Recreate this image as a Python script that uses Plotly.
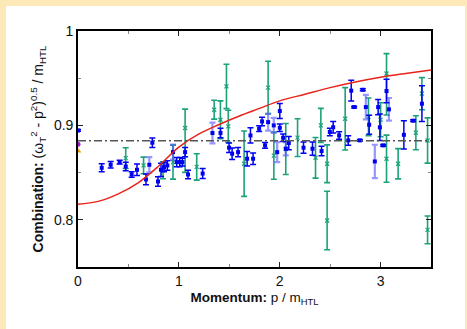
import plotly.graph_objects as go

# ---- data ----
# blue lattice points (dark)
b_x = [0.0, 0.235, 0.324, 0.413, 0.473, 0.532, 0.585, 0.674, 0.737, 0.793, 0.823, 0.853, 0.886,
       0.979, 1.009, 1.035, 1.062, 1.091, 1.236, 1.413, 1.498, 1.528, 1.587, 1.677, 1.71, 1.736,
       1.796, 1.825, 1.855, 2.001, 2.001, 2.034, 2.09, 2.236, 2.325, 2.415, 2.497, 2.53, 2.589,
       2.679, 2.709, 2.738, 2.795, 2.824, 2.887, 2.976, 2.993, 3.026, 3.059, 3.231, 3.323, 3.41]
b_y = [0.8947, 0.8551, 0.8583, 0.8611, 0.8565, 0.848, 0.853, 0.8428, 0.8817, 0.8406, 0.853, 0.8558, 0.8576,
       0.8611, 0.8611, 0.8611, 0.8717, 0.848, 0.849, 0.892, 0.8764, 0.870, 0.8717, 0.8647, 0.8894, 0.8647,
       0.8965, 0.9042, 0.8788, 0.9152, 0.8975, 0.8869, 0.8813, 0.8764, 0.8753, 0.8728, 0.893, 0.898, 0.8894,
       0.8841, 0.9368, 0.9194, 0.8841, 0.9378, 0.9007, 0.9194, 0.898, 0.8788, 0.9364, 0.890, 0.905, 0.923]
b_e = [0.001, 0.0042, 0.0035, 0.002, 0.0045, 0.003, 0.006, 0.0056, 0.005, 0.005, 0.007, 0.005, 0.005,
       0.005, 0.005, 0.004, 0.005, 0.0044, 0.0053, 0.005, 0.005, 0.006, 0.005, 0.0076, 0.008, 0.006,
       0.003, 0.0045, 0.003, 0.008, 0.004, 0.004, 0.007, 0.006, 0.007, 0.005, 0.004, 0.006, 0.004,
       0.005, 0.011, 0.001, 0.001, 0.001, 0.01, 0.008, 0.014, 0.001, 0.0125, 0.015, 0.001, 0.019]

# blue lattice points (light)
bl_x = [0.707, 0.942, 1.333, 1.885, 1.941, 1.975, 2.06, 2.854, 2.943, 3.083]
bl_y = [0.8583, 0.8717, 0.8919, 0.9035, 0.900, 0.8717, 0.8753, 0.9194, 0.8618, 0.917]
bl_e = [0.008, 0.008, 0.011, 0.009, 0.008, 0.0106, 0.007, 0.013, 0.0177, 0.012]

# green points
g_x = [0.473, 0.65, 0.843, 0.942, 1.062, 1.177, 1.35, 1.412, 1.472, 1.49, 1.647, 1.885, 1.942, 2.06,
       2.177, 2.355, 2.408, 2.47, 2.47, 2.649, 2.88, 3.0, 3.059, 3.059, 3.174, 3.35, 3.41, 3.466, 3.466]
g_y = [0.8654, 0.8576, 0.8525, 0.8611, 0.8972, 0.856, 0.9166, 0.906, 0.9413, 0.899, 0.8594, 0.94, 0.868, 0.875,
       0.887, 0.8657, 0.900, 0.8594, 0.7993, 0.907, 0.909, 0.906, 0.955, 0.8647, 0.8594, 0.8922, 0.9336, 0.884, 0.7894]
g_up = [0.011, 0.0088, 0.009, 0.018, 0.02, 0.014, 0.01, 0.02, 0.0235, 0.017, 0.0346, 0.028, 0.025, 0.027,
        0.02, 0.0215, 0.018, 0.02, 0.031, 0.033, 0.02, 0.018, 0.021, 0.025, 0.016, 0.018, 0.017, 0.024, 0.0147]
g_dn = [0.011, 0.0088, 0.009, 0.018, 0.047, 0.014, 0.01, 0.02, 0.0235, 0.017, 0.0346, 0.028, 0.025, 0.027,
        0.02, 0.0215, 0.018, 0.02, 0.031, 0.033, 0.02, 0.018, 0.044, 0.025, 0.016, 0.018, 0.017, 0.024, 0.0147]

# p = 0 points
p0_purple = 0.8799
p0_orange = 0.8728

# HTL curve
c_x = [0.0, 0.2, 0.4, 0.6, 0.8, 1.0, 1.2, 1.4, 1.6, 1.8, 2.0, 2.25, 2.5, 2.75, 3.0, 3.25, 3.5]
c_y = [0.8165, 0.8195, 0.8275, 0.8395, 0.857, 0.877, 0.891, 0.901, 0.910, 0.918, 0.926, 0.933,
       0.940, 0.946, 0.951, 0.955, 0.9587]

ref_level = 0.8837

x_ticks = [0, 1, 2, 3]
y_ticks = [0.8, 0.9, 1.0]
y_ticktext = ["0.8", "0.9", "1"]

BLUE = "#0000f0"
BLUE_L = "rgba(80,80,255,0.6)"
GREEN = "#1ca27a"
RED = "#e8231a"

fig = go.Figure()

fig.add_trace(go.Scatter(
    x=g_x, y=g_y, mode="markers",
    marker=dict(symbol="x-thin", size=4, color=GREEN, line=dict(width=1.2, color=GREEN)),
    error_y=dict(type="data", symmetric=False, array=g_up, arrayminus=g_dn,
                 color=GREEN, thickness=1.6, width=3),
    showlegend=False))

fig.add_trace(go.Scatter(
    x=bl_x, y=bl_y, mode="markers",
    marker=dict(symbol="square", size=4, color=BLUE),
    error_y=dict(type="data", array=bl_e, color=BLUE_L, thickness=2.2, width=3),
    showlegend=False))

fig.add_trace(go.Scatter(
    x=b_x, y=b_y, mode="markers",
    marker=dict(symbol="square", size=4, color=BLUE),
    error_y=dict(type="data", array=b_e, color=BLUE, thickness=1.5, width=3),
    showlegend=False))

fig.add_trace(go.Scatter(
    x=[0], y=[p0_purple], mode="markers",
    marker=dict(symbol="circle", size=5, color="#9a1fd0"), showlegend=False))
fig.add_trace(go.Scatter(
    x=[0], y=[p0_orange], mode="markers",
    marker=dict(symbol="triangle-up", size=6, color="#e8a000"), showlegend=False))

fig.add_trace(go.Scatter(
    x=c_x, y=c_y, mode="lines",
    line=dict(color=RED, width=1.5, shape="spline"), showlegend=False))

# reference level
fig.add_shape(type="line", xref="paper", x0=0, x1=1, yref="y", y0=ref_level, y1=ref_level,
              line=dict(color="#555555", width=1.5, dash="8px,3px,2px,3px"), layer="above")

# white panel on beige page
L, R, T, B = 78, 36, 31, 62
W, H = 467, 329
pw, ph = W - L - R, H - T - B
fig.add_shape(type="rect", xref="paper", yref="paper", layer="below",
              x0=(6 - L) / pw, x1=(465 - L) / pw,
              y0=-(B + 5) / ph, y1=1 + (T - 6) / ph,
              fillcolor="white", line=dict(width=0))

font = "Liberation Sans, Arial, sans-serif"
fig.update_layout(
    width=W, height=H,
    margin=dict(l=L, r=R, t=T, b=B),
    paper_bgcolor="#fde8b7",
    plot_bgcolor="white",
    font=dict(family=font, size=14, color="#111"),
    xaxis=dict(range=[0, 3.5], tickvals=x_ticks, ticks="inside", ticklen=5, tickwidth=1,
               tickcolor="#222", showline=True, mirror="ticks", linecolor="black", linewidth=1.6,
               showgrid=False, zeroline=False,
               minor=dict(dtick=0.5, ticks="inside", ticklen=3, tickcolor="#888"),
               tickfont=dict(size=14),
               title=dict(text="<b>Momentum:</b> p / m<sub>HTL</sub>", font=dict(size=13.5), standoff=5)),
    yaxis=dict(range=[0.75, 1.0], tickvals=y_ticks, ticktext=y_ticktext, ticks="inside", ticklen=5,
               tickwidth=1, tickcolor="#222", showline=True, mirror="ticks", linecolor="black",
               linewidth=1.6, showgrid=False, zeroline=False,
               minor=dict(dtick=0.05, ticks="inside", ticklen=3, tickcolor="#888"),
               tickfont=dict(size=14),
               title=dict(text="<b>Combination:</b> (ω<sub>T</sub><sup>2</sup> - p<sup>2</sup>)<sup>0.5</sup> / m<sub>HTL</sub>",
                          font=dict(size=14), standoff=7)),
)

fig.write_html("out.html")
